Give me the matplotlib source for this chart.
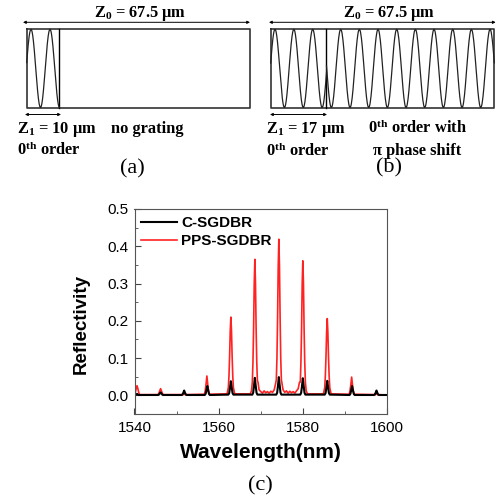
import numpy as np
import matplotlib
matplotlib.use("Agg")
import matplotlib.pyplot as plt
from matplotlib.ticker import MultipleLocator

# Dados do espectro
wl_c = [1540.0, 1540.2, 1540.4, 1540.6, 1540.8, 1541.0, 1541.2,
        1545.6, 1545.8, 1546.0, 1546.2, 1546.4, 1546.6, 1546.8,
        1551.2, 1551.4, 1551.6, 1551.8, 1552.0, 1552.2, 1552.4,
        1556.7, 1556.9, 1557.1, 1557.3, 1557.5, 1557.7, 1557.9,
        1562.3, 1562.5, 1562.7, 1562.9, 1563.1, 1563.3, 1563.5,
        1568.0, 1568.2, 1568.4, 1568.6, 1568.8, 1569.0, 1569.2,
        1573.7, 1573.9, 1574.1, 1574.3, 1574.5, 1574.7, 1574.9,
        1579.4, 1579.6, 1579.8, 1580.0, 1580.2, 1580.4, 1580.6,
        1585.2, 1585.4, 1585.6, 1585.8, 1586.0, 1586.2, 1586.4,
        1591.1, 1591.3, 1591.5, 1591.7, 1591.9, 1592.1, 1592.3,
        1596.9, 1597.1, 1597.3, 1597.5, 1597.7, 1597.9, 1598.1, 1600.0]
r_c = [0.001, 0.001, 0.002, 0.004, 0.002, 0.001, 0.001,
       0.001, 0.002, 0.005, 0.008, 0.005, 0.002, 0.001,
       0.001, 0.002, 0.007, 0.013, 0.007, 0.002, 0.001,
       0.001, 0.004, 0.014, 0.025, 0.014, 0.004, 0.001,
       0.002, 0.006, 0.021, 0.038, 0.021, 0.006, 0.002,
       0.002, 0.007, 0.026, 0.047, 0.026, 0.007, 0.002,
       0.002, 0.007, 0.027, 0.049, 0.027, 0.007, 0.002,
       0.002, 0.007, 0.025, 0.046, 0.025, 0.007, 0.002,
       0.002, 0.006, 0.021, 0.039, 0.021, 0.006, 0.002,
       0.001, 0.004, 0.014, 0.025, 0.014, 0.004, 0.001,
       0.001, 0.002, 0.007, 0.013, 0.007, 0.002, 0.001, 0.001]

wl_p = [1540.0, 1540.2, 1540.4, 1540.6, 1540.8, 1541.0, 1541.2,
        1545.6, 1545.8, 1546.0, 1546.2, 1546.4, 1546.6, 1546.8,
        1551.5, 1551.8, 1552.1,
        1556.6, 1556.8, 1557.0, 1557.2, 1557.4, 1557.6, 1557.8,
        1562.0, 1562.3, 1562.45, 1562.6, 1562.75, 1562.9, 1563.05, 1563.2, 1563.35, 1563.5, 1563.8,
        1567.5, 1567.8, 1568.0, 1568.15, 1568.3, 1568.45, 1568.6, 1568.75, 1568.9, 1569.05, 1569.2,
        1569.35, 1569.6, 1570.0, 1570.4, 1570.8, 1571.2, 1571.6, 1572.0, 1572.4, 1572.8, 1573.2,
        1573.5, 1573.7, 1573.85, 1574.0, 1574.15, 1574.3, 1574.45, 1574.6, 1574.75, 1574.9,
        1575.05, 1575.3, 1575.7, 1576.1, 1576.5, 1576.9, 1577.3, 1577.7, 1578.1, 1578.5, 1578.9,
        1579.2, 1579.4, 1579.55, 1579.7, 1579.85, 1580.0, 1580.15, 1580.3, 1580.45, 1580.6,
        1580.8, 1581.1,
        1584.9, 1585.2, 1585.35, 1585.5, 1585.65, 1585.8, 1585.95, 1586.1, 1586.25, 1586.4, 1586.7,
        1591.0, 1591.2, 1591.4, 1591.6, 1591.8, 1592.0, 1592.2,
        1597.2, 1597.5, 1597.8, 1600.0]
r_p = [0.003, 0.008, 0.018, 0.026, 0.018, 0.008, 0.002,
       0.002, 0.006, 0.012, 0.018, 0.012, 0.006, 0.002,
       0.002, 0.003, 0.002,
       0.003, 0.012, 0.030, 0.052, 0.030, 0.012, 0.003,
       0.004, 0.021, 0.052, 0.105, 0.172, 0.210, 0.172, 0.105, 0.052, 0.021, 0.004,
       0.004, 0.012, 0.036, 0.090, 0.180, 0.300, 0.365, 0.300, 0.180, 0.090, 0.040,
       0.035, 0.015, 0.010, 0.006, 0.012, 0.007, 0.010, 0.006, 0.011, 0.008, 0.015,
       0.030, 0.042, 0.100, 0.210, 0.345, 0.419, 0.345, 0.210, 0.100, 0.042,
       0.032, 0.015, 0.008, 0.012, 0.006, 0.011, 0.007, 0.010, 0.006, 0.012, 0.018,
       0.035, 0.036, 0.090, 0.180, 0.300, 0.361, 0.300, 0.180, 0.090, 0.036,
       0.012, 0.004,
       0.004, 0.021, 0.052, 0.103, 0.169, 0.206, 0.169, 0.103, 0.052, 0.021, 0.004,
       0.003, 0.012, 0.028, 0.049, 0.028, 0.012, 0.003,
       0.002, 0.004, 0.002, 0.001]

labels = ["C-SGDBR", "PPS-SGDBR"]

plt.rcParams['font.family'] = 'Liberation Sans'
plt.rcParams['mathtext.fontset'] = 'custom'
plt.rcParams['mathtext.rm'] = 'Liberation Serif:bold'
plt.rcParams['mathtext.bf'] = 'Liberation Serif:bold'
plt.rcParams['mathtext.it'] = 'Liberation Serif:bold'

fig = plt.figure(figsize=(5.03, 4.97), dpi=100)

# Grafico (c)
ax = fig.add_axes([134.5/503, 1-414/497, 252.5/503, 205/497])
lp, = ax.plot(wl_p, r_p, color='#ff2222', lw=1.2)
lc, = ax.plot(wl_c, r_c, color='black', lw=1.5)
ax.set_xlim(1540, 1600)
ax.set_ylim(-0.05, 0.5)
ax.xaxis.set_major_locator(MultipleLocator(20))
ax.xaxis.set_minor_locator(MultipleLocator(10))
ax.yaxis.set_major_locator(MultipleLocator(0.1))
ax.yaxis.set_minor_locator(MultipleLocator(0.05))
ax.yaxis.set_major_formatter(plt.FormatStrFormatter('%.1f'))
ax.tick_params(which='both', direction='in', labelsize=11, color='#444444')
ax.tick_params(which='major', length=4)
ax.tick_params(which='minor', length=2.5)
ax.tick_params(axis='x', pad=5)
ax.tick_params(axis='y', pad=4)
for s in ax.spines.values():
    s.set_color('#555555')
ax.set_xlabel('Wavelength(nm)', fontsize=15, fontweight='bold', labelpad=6)
ax.set_ylabel('Reflectivity', fontsize=13.5, fontweight='bold')
ax.yaxis.set_label_coords(-0.176, 0.439)
ax.legend([lc, lp], labels, loc='upper left', bbox_to_anchor=(0, 1), frameon=False,
          prop={'weight': 'bold', 'size': 11}, handlelength=2.3, handletextpad=0.3,
          labelspacing=0.3, borderaxespad=0.25, borderpad=0.2)

# Esquemas (a) e (b) em coordenadas de pixel
ov = fig.add_axes([0, 0, 1, 1])
ov.set_xlim(0, 503)
ov.set_ylim(497, 0)
ov.axis('off')

top, bot = 29.3, 107.5
mid, amp = (top + bot) / 2, (bot - top) / 2
lc_box = '#333333'

def caixa(x0, x1, xd):
    ov.plot([x0, x1, x1, x0, x0], [top, top, bot, bot, top], color=lc_box, lw=1.2)
    ov.plot([xd, xd], [top, bot], color='black', lw=1.0)

def onda(x0, x1, xpico, periodo):
    x = np.linspace(x0, x1, 400)
    ov.plot(x, mid - amp * np.cos(2 * np.pi * (x - xpico) / periodo), color='#222222', lw=0.9)

def seta(x0, x1, y):
    ov.annotate('', xy=(x0, y), xytext=(x1, y),
                arrowprops=dict(arrowstyle='<|-|>', lw=0.7, color='black',
                                mutation_scale=4, shrinkA=0, shrinkB=0))

fs = 11.8
tk = dict(fontsize=fs, family='Liberation Serif', fontweight='bold')

# (a)
caixa(26.7, 250, 59.3)
onda(26.7, 59.3, 31, 19)
seta(23, 250, 22.3)
seta(25, 61, 114.5)
ov.text(139.7, 16.7, 'Z$_0$ = 67.5 μm', ha='center', va='baseline', **tk)
ov.text(16.7, 133.3, 'Z$_1$ = 10 μm', ha='left', va='baseline', **tk)
ov.text(111, 132.7, 'no grating', ha='left', va='baseline', **tk)
ov.text(16.7, 155, '0$^{th}$ order', ha='left', va='baseline', **tk)
ov.text(132.5, 169, '(a)', ha='center', va='center', fontsize=16, family='Liberation Serif')

# (b)
caixa(270.7, 494.3, 326.5)
onda(270.7, 326.5, 275, 18.85)
onda(326.5, 494.3, 340.7, 18.67)
seta(269, 495.7, 22.3)
seta(270, 327, 114.5)
ov.text(389, 16.7, 'Z$_0$ = 67.5 μm', ha='center', va='baseline', **tk)
ov.text(266, 133.3, 'Z$_1$ = 17 μm', ha='left', va='baseline', **tk)
ov.text(266, 156, '0$^{th}$ order', ha='left', va='baseline', **tk)
ov.text(417, 133.3, '0$^{th}$ order with', ha='center', va='baseline', **tk)
ov.text(417, 155, 'π phase shift', ha='center', va='baseline', **tk)
ov.text(389, 168, '(b)', ha='center', va='center', fontsize=16, family='Liberation Serif')

# (c)
ov.text(260.5, 485.5, '(c)', ha='center', va='center', fontsize=16, family='Liberation Serif')

fig.savefig('out.png', dpi=100)
